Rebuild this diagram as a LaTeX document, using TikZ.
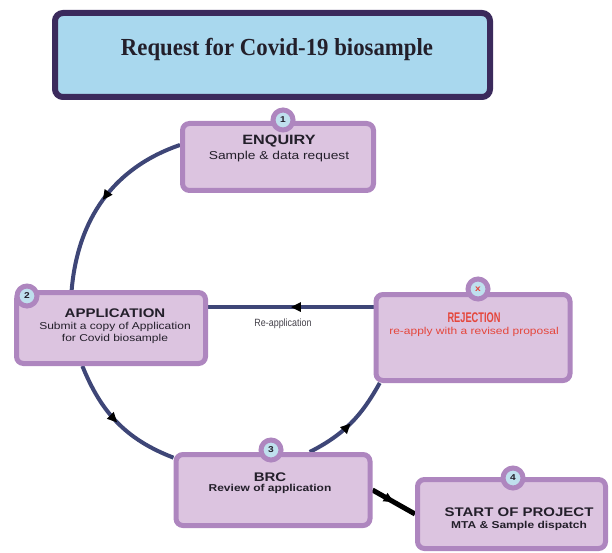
\documentclass[tikz,border=0pt]{standalone}
\usepackage{fontspec}
\setmainfont{Liberation Serif}
\newfontfamily\sansw[FakeStretch=1.2]{Liberation Sans}
\newfontfamily\sanscond[FakeStretch=0.66]{Liberation Sans}
\newfontfamily\sansnarrow[FakeStretch=0.85]{Liberation Sans}
\newfontfamily\titlef[FakeStretch=0.93]{Liberation Serif}
\usetikzlibrary{backgrounds,decorations.markings,arrows.meta}
\definecolor{titlefill}{HTML}{A9D8EE}
\definecolor{titledraw}{HTML}{3B2A5C}
\definecolor{boxfill}{HTML}{DCC4E0}
\definecolor{boxdraw}{HTML}{AE86BF}
\definecolor{badgefill}{HTML}{BFE0EE}
\definecolor{linecol}{HTML}{3E4677}
\definecolor{redtxt}{HTML}{E5463B}
\definecolor{txt}{HTML}{231F2A}
\tikzset{
  box/.style={draw=boxdraw, fill=boxfill, line width=5pt, rounded corners=7pt, inner sep=0pt},
  badge/.style={circle, draw=boxdraw, fill=badgefill, line width=5pt, minimum size=20pt, inner sep=0pt,
    font=\sansw\bfseries\fontsize{8.5}{8.5}\selectfont, text=txt},
  midarrow/.style={postaction={decorate}, decoration={markings,
    mark=at position 0.5 with {\arrow[black]{Triangle[length=10pt,width=9pt]}}}},
  conn/.style={draw=linecol, line width=4pt, midarrow},
  blackconn/.style={draw=black, line width=5pt, midarrow},
  ttl/.style={font=\sansw\bfseries\fontsize{12.5}{14}\selectfont, text=txt, inner sep=0pt},
  sub/.style={font=\sansw\fontsize{10}{12.5}\selectfont, text=txt, inner sep=0pt, align=center},
  subb/.style={font=\sansw\bfseries\fontsize{10}{12.5}\selectfont, text=txt, inner sep=0pt, align=center},
}
\begin{document}
\begin{tikzpicture}[x=1pt,y=1pt]
\useasboundingbox (0,0) rectangle (612,552);
% title
\node[draw=titledraw, fill=titlefill, line width=6pt, rounded corners=8pt,
      minimum width=435pt, minimum height=84pt, inner sep=0pt] (title) at (272.5,497) {};
\node[font=\titlef\bfseries\fontsize{24.5}{27}\selectfont, text=txt, inner sep=0pt] (titletext) at (277,503) {Request for Covid-19 biosample};
% boxes
\node[box, minimum width=191pt, minimum height=67pt] (enq) at (278,395) {};
\node[box, minimum width=189pt, minimum height=71pt] (app) at (111,224) {};
\node[box, minimum width=194pt, minimum height=86pt] (rej) at (473,214.5) {};
\node[box, minimum width=194pt, minimum height=71pt] (brc) at (273,62) {};
\node[box, minimum width=188pt, minimum height=69pt] (start) at (511.5,38) {};
% badges
\node[badge] (b1) at (283,432) {1};
\node[badge] (b2) at (27,256) {2};
\node[badge, text=redtxt] (bx) at (478,263) {x};
\node[badge] (b3) at (271,102) {3};
\node[badge] (b4) at (513,74) {4};
% texts
\node[ttl, font=\sansw\bfseries\fontsize{13.5}{15}\selectfont] (enqt) at (279,411) {ENQUIRY};
\node[sub, font=\sansw\fontsize{11.5}{13}\selectfont] (enqs) at (279,395) {Sample \& data request};
\node[ttl] (appt) at (115,239) {APPLICATION};
\node[sub] (apps) at (115,219) {Submit a copy of Application\\for Covid biosample};
\node[font=\sanscond\bfseries\fontsize{14}{16}\selectfont, text=redtxt, inner sep=0pt] (rejt) at (474,234) {REJECTION};
\node[sub, text=redtxt] (rejs) at (474,220) {re-apply with a revised proposal};
\node[ttl] (brct) at (270,75) {BRC};
\node[subb] (brcs) at (270,63) {Review of application};
\node[ttl] (startt) at (519,40) {START OF PROJECT};
\node[subb] (starts) at (519,26) {MTA \& Sample dispatch};
\node[font=\sansnarrow\fontsize{10.5}{12}\selectfont, text=txt!85, inner sep=0pt] (reapp) at (283,228) {Re-application};
% connectors
\begin{scope}[on background layer]
\draw[conn] (enq.173) to[out=199,in=85] (app.136);
\draw[conn] (app.233) to[out=292,in=159] (brc.162);
\draw[conn] (brc.46) to[out=27,in=241] (rej.206);
\draw[conn] (rej.163) -- (rej.163 -| app.east);
\draw[blackconn] (brc.east) -- (start.west);
\end{scope}
\end{tikzpicture}
\end{document}
